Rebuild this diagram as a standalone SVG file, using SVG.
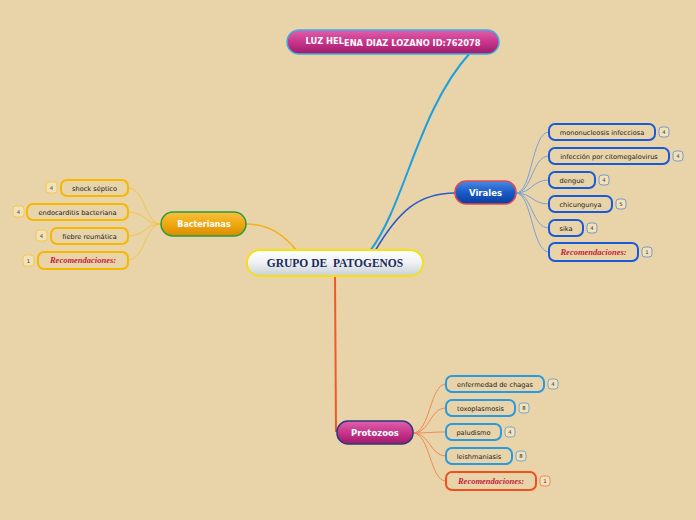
<svg xmlns="http://www.w3.org/2000/svg" width="696" height="520" viewBox="0 0 696 520">
<defs>
<linearGradient id="gMag" x1="0" y1="0" x2="0" y2="1"><stop offset="0" stop-color="#e060ac"/><stop offset="0.5" stop-color="#c8358c"/><stop offset="1" stop-color="#9e1a68"/></linearGradient>
<linearGradient id="gBlue" x1="0" y1="0" x2="0" y2="1"><stop offset="0" stop-color="#4a8ae0"/><stop offset="0.5" stop-color="#1a5ac8"/><stop offset="1" stop-color="#0a3e9a"/></linearGradient>
<linearGradient id="gOr" x1="0" y1="0" x2="0" y2="1"><stop offset="0" stop-color="#f8c040"/><stop offset="0.5" stop-color="#f0a810"/><stop offset="1" stop-color="#d88c00"/></linearGradient>
<linearGradient id="gWhite" x1="0" y1="0" x2="0" y2="1"><stop offset="0" stop-color="#ffffff"/><stop offset="0.5" stop-color="#eef0f2"/><stop offset="1" stop-color="#c8d0d6"/></linearGradient>
</defs>
<style>
.hd{font-family:"DejaVu Sans",Verdana,sans-serif;font-weight:bold;fill:#fff;text-anchor:middle}
.ct{font-family:"DejaVu Sans",Verdana,sans-serif;font-size:6.6px;fill:#222;text-anchor:middle}
.rec{font-family:"Liberation Serif","Times New Roman",serif;font-weight:bold;font-style:italic;font-size:8.5px;fill:#c41e3a;text-anchor:middle}
.bd{fill:#f2e2bc;stroke-width:1}
.bt{font-family:"DejaVu Sans",Verdana,sans-serif;font-size:5.3px;fill:#333;text-anchor:middle}
.cb{fill:none;stroke-width:1}
</style>
<rect width="696" height="520" fill="#e8d4a8"/>
<g id="connectors">
<path d="M370,251 C405,205 418,110 470,53" fill="none" stroke="#1aa0e0" stroke-width="2"/>
<path d="M375,251 C398,212 418,193 455,193" fill="none" stroke="#2a5ac8" stroke-width="1.6"/>
<path d="M297,251 C285,236 270,224 246,224" fill="none" stroke="#f5b020" stroke-width="1.6"/>
<path d="M335,276 L336,432" fill="none" stroke="#f05a28" stroke-width="2"/>
<g stroke="#f5c448">
<path class="cb" d="M161,224 C145,224 145,188 128,188"/>
<path class="cb" d="M161,224 C145,224 145,212 128,212"/>
<path class="cb" d="M161,224 C145,224 145,236 128,236"/>
<path class="cb" d="M161,224 C145,224 145,260 128,260"/>
</g>
<g stroke="#7aa0d8">
<path class="cb" d="M516,193 C532,193 532,132 549,132"/>
<path class="cb" d="M516,193 C532,193 532,156 549,156"/>
<path class="cb" d="M516,193 C532,193 532,180 549,180"/>
<path class="cb" d="M516,193 C532,193 532,204 549,204"/>
<path class="cb" d="M516,193 C532,193 532,228 549,228"/>
<path class="cb" d="M516,193 C532,193 532,252 549,252"/>
</g>
<g stroke="#f08858">
<path class="cb" d="M413,433 C430,433 430,384 446,384"/>
<path class="cb" d="M413,433 C430,433 430,408 446,408"/>
<path class="cb" d="M413,433 C430,433 430,432 446,432"/>
<path class="cb" d="M413,433 C430,433 430,456 446,456"/>
<path class="cb" d="M413,433 C430,433 430,481 446,481"/>
</g>
</g>
<g id="n-luz">
<rect x="287" y="30" width="212" height="24" rx="12" fill="url(#gMag)" stroke="#3ab0e0" stroke-width="1.5"/>
<text class="hd" font-size="8.3" x="393" y="45.5"><tspan dy="-1.5">LUZ HEL</tspan><tspan dy="1.5">ENA DIAZ LOZANO ID:762078</tspan></text>
</g>
<g id="n-center">
<rect x="247" y="250" width="176" height="26" rx="13" fill="url(#gWhite)" stroke="#f5e010" stroke-width="1.8"/>
<text x="335" y="267" xml:space="preserve" font-family="'Liberation Serif','Times New Roman',serif" font-weight="bold" font-size="11.5" fill="#1a2a5a" text-anchor="middle">GRUPO DE  PATOGENOS</text>
</g>
<g id="n-bacterianas">
<rect x="161" y="212" width="85" height="24" rx="12" fill="url(#gOr)" stroke="#2a9a40" stroke-width="1.5"/>
<text class="hd" font-size="8" x="204" y="227">Bacterianas</text>
</g>
<g id="n-shock"><rect x="61" y="180" width="67" height="16" rx="6" fill="none" stroke="#f5b800" stroke-width="2"/><text class="ct" x="94.5" y="190.5">shock séptico</text><rect class="bd" x="46" y="182" width="11" height="11" rx="3" stroke="#f5c848"/><text class="bt" x="51.5" y="189.5">4</text></g>
<g id="n-endo"><rect x="27" y="204" width="101" height="16" rx="6" fill="none" stroke="#f5b800" stroke-width="2"/><text class="ct" x="77.5" y="214.5">endocarditis bacteriana</text><rect class="bd" x="13" y="206" width="11" height="11" rx="3" stroke="#f5c848"/><text class="bt" x="18.5" y="213.5">4</text></g>
<g id="n-fiebre"><rect x="51" y="228" width="77" height="16" rx="6" fill="none" stroke="#f5b800" stroke-width="2"/><text class="ct" x="89.5" y="238.5">fiebre reumática</text><rect class="bd" x="36" y="230" width="11" height="11" rx="3" stroke="#f5c848"/><text class="bt" x="41.5" y="237.5">4</text></g>
<g id="n-recb"><rect x="38" y="252" width="90" height="17" rx="6" fill="none" stroke="#f5b800" stroke-width="2"/><text class="rec" x="83" y="263">Recomendaciones:</text><rect class="bd" x="23" y="255" width="11" height="11" rx="3" stroke="#f5c848"/><text class="bt" x="28.5" y="262.5">1</text></g>
<g id="n-virales">
<rect x="455" y="181" width="61" height="23" rx="11" fill="url(#gBlue)" stroke="#e04858" stroke-width="1.5"/>
<text class="hd" font-size="8.5" x="485.5" y="196">Virales</text>
</g>
<g id="n-mono"><rect x="549" y="124" width="106" height="16" rx="6" fill="none" stroke="#1a5ad8" stroke-width="2"/><text class="ct" x="602" y="134.5">mononucleosis infecciosa</text><rect class="bd" x="659" y="127" width="10" height="10" rx="3" stroke="#7a9ac8"/><text class="bt" x="664" y="134">4</text></g>
<g id="n-cito"><rect x="549" y="148" width="120" height="16" rx="6" fill="none" stroke="#1a5ad8" stroke-width="2"/><text class="ct" x="609" y="158.5">infección por citomegalovirus</text><rect class="bd" x="673" y="151" width="10" height="10" rx="3" stroke="#7a9ac8"/><text class="bt" x="678" y="158">4</text></g>
<g id="n-dengue"><rect x="549" y="172" width="46" height="16" rx="6" fill="none" stroke="#1a5ad8" stroke-width="2"/><text class="ct" x="572" y="182.5">dengue</text><rect class="bd" x="599" y="175" width="10" height="10" rx="3" stroke="#7a9ac8"/><text class="bt" x="604" y="182">4</text></g>
<g id="n-chic"><rect x="549" y="196" width="63" height="16" rx="6" fill="none" stroke="#1a5ad8" stroke-width="2"/><text class="ct" x="580.5" y="206.5">chicungunya</text><rect class="bd" x="616" y="199" width="10" height="10" rx="3" stroke="#7a9ac8"/><text class="bt" x="621" y="206">5</text></g>
<g id="n-sika"><rect x="549" y="220" width="34" height="16" rx="6" fill="none" stroke="#1a5ad8" stroke-width="2"/><text class="ct" x="566" y="230.5">sika</text><rect class="bd" x="587" y="223" width="10" height="10" rx="3" stroke="#7a9ac8"/><text class="bt" x="592" y="230">4</text></g>
<g id="n-recv"><rect x="549" y="243" width="89" height="18" rx="6" fill="none" stroke="#1a5ad8" stroke-width="2"/><text class="rec" x="593.5" y="255">Recomendaciones:</text><rect class="bd" x="642" y="247" width="10" height="10" rx="3" stroke="#7a9ac8"/><text class="bt" x="647" y="254">1</text></g>
<g id="n-protozoos">
<rect x="337" y="421" width="76" height="23" rx="11" fill="url(#gMag)" stroke="#2a3a80" stroke-width="1.5"/>
<text class="hd" font-size="8.5" x="375" y="436">Protozoos</text>
</g>
<g id="n-chagas"><rect x="446" y="376" width="98" height="16" rx="6" fill="none" stroke="#2a9ae0" stroke-width="2"/><text class="ct" x="495" y="386.5">enfermedad de chagas</text><rect class="bd" x="548" y="379" width="10" height="10" rx="3" stroke="#7aa8c8"/><text class="bt" x="553" y="386">4</text></g>
<g id="n-toxo"><rect x="446" y="400" width="69" height="16" rx="6" fill="none" stroke="#2a9ae0" stroke-width="2"/><text class="ct" x="480.5" y="410.5">toxoplasmosis</text><rect class="bd" x="519" y="403" width="10" height="10" rx="3" stroke="#7aa8c8"/><text class="bt" x="524" y="410">8</text></g>
<g id="n-palu"><rect x="446" y="424" width="55" height="16" rx="6" fill="none" stroke="#2a9ae0" stroke-width="2"/><text class="ct" x="473.5" y="434.5">paludismo</text><rect class="bd" x="505" y="427" width="10" height="10" rx="3" stroke="#7aa8c8"/><text class="bt" x="510" y="434">4</text></g>
<g id="n-leish"><rect x="446" y="448" width="66" height="16" rx="6" fill="none" stroke="#2a9ae0" stroke-width="2"/><text class="ct" x="479" y="458.5">leishmaniasis</text><rect class="bd" x="516" y="451" width="10" height="10" rx="3" stroke="#7aa8c8"/><text class="bt" x="521" y="458">8</text></g>
<g id="n-recp"><rect x="446" y="472" width="90" height="18" rx="6" fill="none" stroke="#f05020" stroke-width="2"/><text class="rec" x="491" y="484">Recomendaciones:</text><rect class="bd" x="540" y="476" width="10" height="10" rx="3" stroke="#f08858"/><text class="bt" x="545" y="483">1</text></g>
</svg>
